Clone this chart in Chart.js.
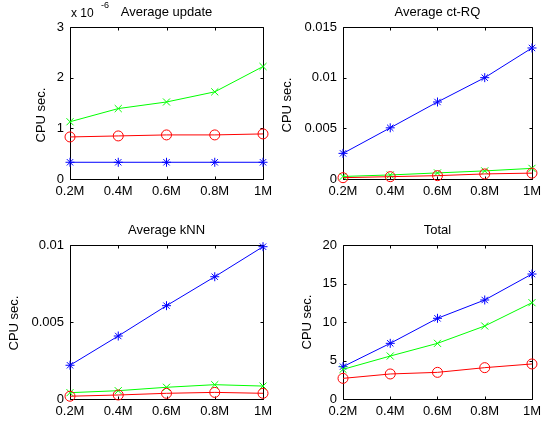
<!DOCTYPE html>
<html><head><meta charset="utf-8">
<script src="https://cdn.jsdelivr.net/npm/chart.js@4/dist/chart.umd.min.js"></script>
<style>
html,body{margin:0;padding:0;background:#fff;width:546px;height:425px;overflow:hidden}
canvas{position:absolute;left:0;top:0}
</style></head>
<body>
<canvas id="c0" width="546" height="425"></canvas>
<canvas id="c1" width="546" height="425"></canvas>
<canvas id="c2" width="546" height="425"></canvas>
<canvas id="c3" width="546" height="425"></canvas>
<script>
// ---- data ----
const xLabels = ['0.2M', '0.4M', '0.6M', '0.8M', '1M'];

// Average update (values in units of 1e-6 CPU sec.)
const updateBlue  = [0.33, 0.33, 0.33, 0.33, 0.33];
const updateGreen = [1.13, 1.39, 1.52, 1.72, 2.22];
const updateRed   = [0.83, 0.85, 0.87, 0.87, 0.89];

// Average ct-RQ
const ctrqBlue  = [0.00253, 0.00505, 0.0076, 0.0100, 0.01293];
const ctrqGreen = [0.00025, 0.00040, 0.00060, 0.00080, 0.00105];
const ctrqRed   = [0.00013, 0.00023, 0.00033, 0.00050, 0.00058];

// Average kNN
const knnBlue  = [0.00219, 0.00409, 0.00606, 0.00794, 0.00989];
const knnGreen = [0.00041, 0.00054, 0.00076, 0.00093, 0.00084];
const knnRed   = [0.00018, 0.00026, 0.00037, 0.00043, 0.00037];

// Total
const totalBlue  = [4.2, 7.23, 10.48, 12.86, 16.23];
const totalGreen = [3.85, 5.58, 7.23, 9.48, 12.51];
const totalRed   = [2.68, 3.25, 3.46, 4.07, 4.55];

const titles = ['Average update', 'Average ct-RQ', 'Average kNN', 'Total'];
const yMaxes = [3, 0.015, 0.01, 20];
const ySteps = [1, 0.005, 0.005, 5];
const yAxisLabel = 'CPU sec.';

// ---- layout (positions only) ----
const W = 546, H = 425, YW = 40, XH = 24;
const boxes = [
  {l: 70,  t: 27,  r: 263, b: 179},
  {l: 343, t: 27,  r: 536, b: 179},
  {l: 70,  t: 245, r: 263, b: 399},
  {l: 343, t: 245, r: 536, b: 399}
];
const yLabelPos = [{x: 41, y: 115}, {x: 287, y: 105}, {x: 14, y: 323}, {x: 307, y: 322}];

const FONT = '"Liberation Sans", Arial, Helvetica, sans-serif';
Chart.defaults.font.family = FONT;
Chart.defaults.font.size = 13;
Chart.defaults.color = '#000';

const decor = {
  id: 'decor',
  beforeDatasetsDraw(chart, args, opts) {
    const ctx = chart.ctx, a = chart.chartArea, xs = chart.scales.x, ys = chart.scales.y;
    ctx.save();
    ctx.strokeStyle = '#000';
    ctx.lineWidth = 1;
    const L = Math.round(a.left) + 0.5, T = Math.round(a.top) + 0.5;
    const R = Math.round(a.right) + 0.5, B = Math.round(a.bottom) + 0.5;
    ctx.beginPath();
    ctx.rect(L, T, R - L, B - T);
    xs.ticks.forEach((t, i) => {
      const x = Math.round(xs.getPixelForTick(i)) + 0.5;
      ctx.moveTo(x, B); ctx.lineTo(x, B - 3);
      ctx.moveTo(x, T); ctx.lineTo(x, T + 3);
    });
    ys.ticks.forEach((t, i) => {
      const y = Math.round(ys.getPixelForTick(i)) + 0.5;
      ctx.moveTo(L, y); ctx.lineTo(L + 3, y);
      ctx.moveTo(R, y); ctx.lineTo(R - 3, y);
    });
    ctx.stroke();
    ctx.restore();
  },
  afterDraw(chart, args, opts) {
    const ctx = chart.ctx, a = chart.chartArea;
    ctx.save();
    ctx.fillStyle = '#000';
    ctx.font = '13px ' + FONT;
    ctx.textAlign = 'center';
    ctx.textBaseline = 'alphabetic';
    ctx.fillText(opts.title, (a.left + a.right) / 2, a.top - 11);
    if (opts.exponent) {
      ctx.textAlign = 'left';
      ctx.font = '12px ' + FONT;
      ctx.fillText('x 10', a.left + 1, a.top - 10);
      ctx.font = '9px ' + FONT;
      ctx.fillText(opts.exponent, a.left + 31, a.top - 19);
    }
    ctx.translate(opts.ylx, opts.yly);
    ctx.rotate(-Math.PI / 2);
    ctx.textAlign = 'center';
    ctx.textBaseline = 'middle';
    ctx.font = '13px ' + FONT;
    ctx.fillText(yAxisLabel, 0, 0);
    ctx.restore();
  }
};

const seriesSets = [
  [updateBlue, updateGreen, updateRed],
  [ctrqBlue, ctrqGreen, ctrqRed],
  [knnBlue, knnGreen, knnRed],
  [totalBlue, totalGreen, totalRed]
];

function fmt(v) { return String(parseFloat(Number(v).toFixed(4))); }

for (let i = 0; i < 4; i++) {
  const b = boxes[i];
  const [blue, green, red] = seriesSets[i];
  new Chart(document.getElementById('c' + i), {
    type: 'line',
    data: {
      labels: xLabels,
      datasets: [
        {data: red, borderColor: '#ff0000', backgroundColor: 'rgba(0,0,0,0)', borderWidth: 1,
         pointStyle: 'circle', pointRadius: 5, pointBorderWidth: 1, pointBorderColor: '#ff0000',
         pointBackgroundColor: 'rgba(0,0,0,0)', clip: false, tension: 0},
        {data: green, borderColor: '#00ff00', backgroundColor: 'rgba(0,0,0,0)', borderWidth: 1,
         pointStyle: 'crossRot', pointRadius: 5, pointBorderWidth: 1, pointBorderColor: '#00ff00',
         clip: false, tension: 0},
        {data: blue, borderColor: '#0000ff', backgroundColor: 'rgba(0,0,0,0)', borderWidth: 1,
         pointStyle: 'star', pointRadius: 4.5, pointBorderWidth: 1, pointBorderColor: '#0000ff',
         clip: false, tension: 0}
      ]
    },
    options: {
      responsive: false,
      animation: false,
      devicePixelRatio: 1,
      events: [],
      layout: {
        autoPadding: false,
        padding: {left: b.l - YW, top: b.t, right: W - b.r, bottom: H - b.b - XH}
      },
      plugins: {
        legend: {display: false},
        tooltip: {enabled: false},
        title: {display: false},
        decor: {title: titles[i], ylx: yLabelPos[i].x, yly: yLabelPos[i].y, exponent: i === 0 ? '-6' : null}
      },
      scales: {
        x: {
          type: 'category',
          offset: false,
          grid: {display: false, drawTicks: false},
          border: {display: false},
          ticks: {padding: 5, maxRotation: 0, autoSkip: false, color: '#000', font: {size: 13}},
          afterFit: s => { s.height = XH; }
        },
        y: {
          type: 'linear',
          min: 0, max: yMaxes[i],
          grid: {display: false, drawTicks: false},
          border: {display: false},
          ticks: {stepSize: ySteps[i], padding: 6, color: '#000', font: {size: 13}, callback: v => fmt(v)},
          afterFit: s => { s.width = YW; }
        }
      }
    },
    plugins: [decor]
  });
}
</script>
</body></html>
